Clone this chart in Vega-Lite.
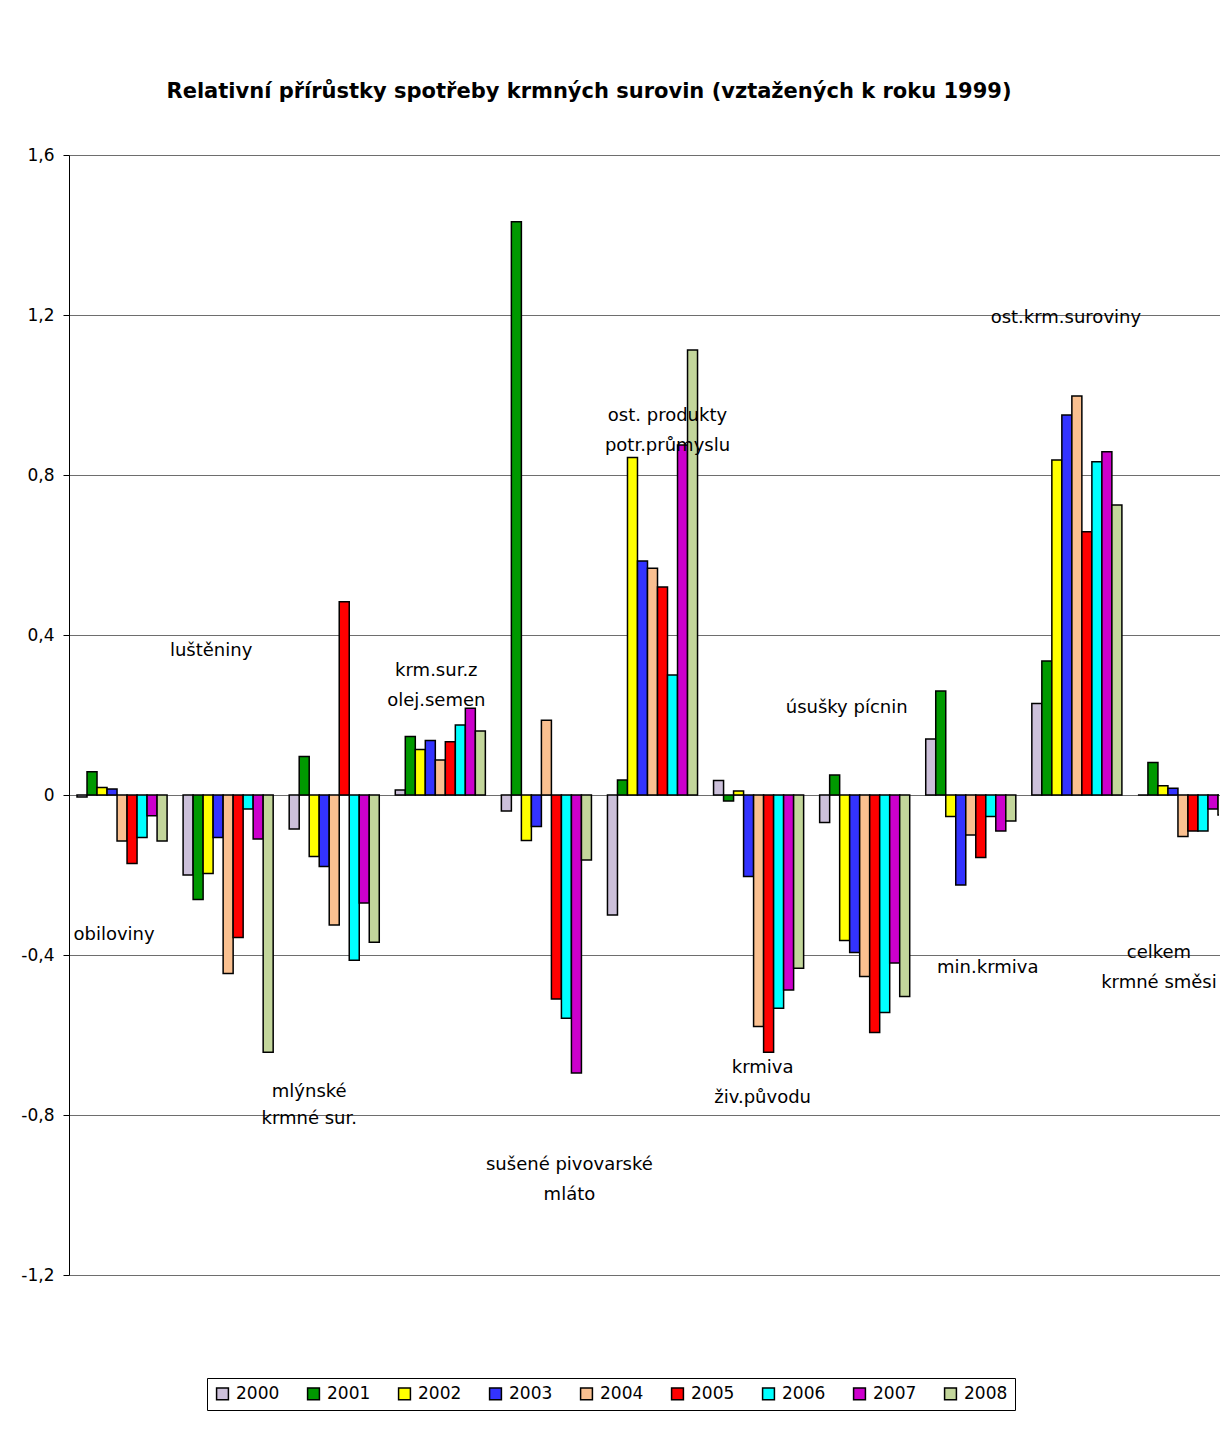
{
  "$schema": "https://vega.github.io/schema/vega-lite/v6.json",
  "width": 1150,
  "height": 1120,
  "autosize": {"type": "none"},
  "padding": {"left": 69, "top": 155, "right": 1, "bottom": 174},
  "background": "white",
  "title": {
    "text": "Relativní přírůstky spotřeby krmných surovin (vztažených k roku 1999)",
    "font": "DejaVu Sans",
    "fontSize": 21,
    "fontWeight": "bold",
    "color": "black",
    "anchor": "middle",
    "dx": -55,
    "offset": 44
  },
  "config": {
    "locale": {"number": {"decimal": ",", "thousands": " ", "grouping": [3], "currency": ["", " Kč"], "minus": "-"}},
    "view": {"stroke": null},
    "font": "DejaVu Sans"
  },
  "datasets": {
    "spotreba": [
      {"kategorie": "obiloviny", "rok": "2000", "hodnota": -0.005},
      {"kategorie": "obiloviny", "rok": "2001", "hodnota": 0.058},
      {"kategorie": "obiloviny", "rok": "2002", "hodnota": 0.019},
      {"kategorie": "obiloviny", "rok": "2003", "hodnota": 0.015},
      {"kategorie": "obiloviny", "rok": "2004", "hodnota": -0.115},
      {"kategorie": "obiloviny", "rok": "2005", "hodnota": -0.171},
      {"kategorie": "obiloviny", "rok": "2006", "hodnota": -0.106},
      {"kategorie": "obiloviny", "rok": "2007", "hodnota": -0.052},
      {"kategorie": "obiloviny", "rok": "2008", "hodnota": -0.115},
      {"kategorie": "luštěniny", "rok": "2000", "hodnota": -0.2},
      {"kategorie": "luštěniny", "rok": "2001", "hodnota": -0.261},
      {"kategorie": "luštěniny", "rok": "2002", "hodnota": -0.196},
      {"kategorie": "luštěniny", "rok": "2003", "hodnota": -0.106},
      {"kategorie": "luštěniny", "rok": "2004", "hodnota": -0.446},
      {"kategorie": "luštěniny", "rok": "2005", "hodnota": -0.356},
      {"kategorie": "luštěniny", "rok": "2006", "hodnota": -0.035},
      {"kategorie": "luštěniny", "rok": "2007", "hodnota": -0.11},
      {"kategorie": "luštěniny", "rok": "2008", "hodnota": -0.643},
      {"kategorie": "mlýnské krmné sur.", "rok": "2000", "hodnota": -0.085},
      {"kategorie": "mlýnské krmné sur.", "rok": "2001", "hodnota": 0.096},
      {"kategorie": "mlýnské krmné sur.", "rok": "2002", "hodnota": -0.154},
      {"kategorie": "mlýnské krmné sur.", "rok": "2003", "hodnota": -0.179},
      {"kategorie": "mlýnské krmné sur.", "rok": "2004", "hodnota": -0.325},
      {"kategorie": "mlýnské krmné sur.", "rok": "2005", "hodnota": 0.483},
      {"kategorie": "mlýnské krmné sur.", "rok": "2006", "hodnota": -0.413},
      {"kategorie": "mlýnské krmné sur.", "rok": "2007", "hodnota": -0.27},
      {"kategorie": "mlýnské krmné sur.", "rok": "2008", "hodnota": -0.368},
      {"kategorie": "krm.sur.z olej.semen", "rok": "2000", "hodnota": 0.0125},
      {"kategorie": "krm.sur.z olej.semen", "rok": "2001", "hodnota": 0.146},
      {"kategorie": "krm.sur.z olej.semen", "rok": "2002", "hodnota": 0.114},
      {"kategorie": "krm.sur.z olej.semen", "rok": "2003", "hodnota": 0.136},
      {"kategorie": "krm.sur.z olej.semen", "rok": "2004", "hodnota": 0.0875},
      {"kategorie": "krm.sur.z olej.semen", "rok": "2005", "hodnota": 0.133},
      {"kategorie": "krm.sur.z olej.semen", "rok": "2006", "hodnota": 0.175},
      {"kategorie": "krm.sur.z olej.semen", "rok": "2007", "hodnota": 0.217},
      {"kategorie": "krm.sur.z olej.semen", "rok": "2008", "hodnota": 0.16},
      {"kategorie": "sušené pivovarské mláto", "rok": "2000", "hodnota": -0.04},
      {"kategorie": "sušené pivovarské mláto", "rok": "2001", "hodnota": 1.433},
      {"kategorie": "sušené pivovarské mláto", "rok": "2002", "hodnota": -0.114},
      {"kategorie": "sušené pivovarské mláto", "rok": "2003", "hodnota": -0.079},
      {"kategorie": "sušené pivovarské mláto", "rok": "2004", "hodnota": 0.187},
      {"kategorie": "sušené pivovarské mláto", "rok": "2005", "hodnota": -0.51},
      {"kategorie": "sušené pivovarské mláto", "rok": "2006", "hodnota": -0.558},
      {"kategorie": "sušené pivovarské mláto", "rok": "2007", "hodnota": -0.695},
      {"kategorie": "sušené pivovarské mláto", "rok": "2008", "hodnota": -0.1625},
      {"kategorie": "ost. produkty potr.průmyslu", "rok": "2000", "hodnota": -0.3},
      {"kategorie": "ost. produkty potr.průmyslu", "rok": "2001", "hodnota": 0.0375},
      {"kategorie": "ost. produkty potr.průmyslu", "rok": "2002", "hodnota": 0.844},
      {"kategorie": "ost. produkty potr.průmyslu", "rok": "2003", "hodnota": 0.585},
      {"kategorie": "ost. produkty potr.průmyslu", "rok": "2004", "hodnota": 0.567},
      {"kategorie": "ost. produkty potr.průmyslu", "rok": "2005", "hodnota": 0.52},
      {"kategorie": "ost. produkty potr.průmyslu", "rok": "2006", "hodnota": 0.3},
      {"kategorie": "ost. produkty potr.průmyslu", "rok": "2007", "hodnota": 0.875},
      {"kategorie": "ost. produkty potr.průmyslu", "rok": "2008", "hodnota": 1.1125},
      {"kategorie": "krmiva živ.původu", "rok": "2000", "hodnota": 0.036},
      {"kategorie": "krmiva živ.původu", "rok": "2001", "hodnota": -0.015},
      {"kategorie": "krmiva živ.původu", "rok": "2002", "hodnota": 0.01},
      {"kategorie": "krmiva živ.původu", "rok": "2003", "hodnota": -0.204},
      {"kategorie": "krmiva živ.původu", "rok": "2004", "hodnota": -0.579},
      {"kategorie": "krmiva živ.původu", "rok": "2005", "hodnota": -0.643},
      {"kategorie": "krmiva živ.původu", "rok": "2006", "hodnota": -0.533},
      {"kategorie": "krmiva živ.původu", "rok": "2007", "hodnota": -0.4875},
      {"kategorie": "krmiva živ.původu", "rok": "2008", "hodnota": -0.433},
      {"kategorie": "úsušky pícnin", "rok": "2000", "hodnota": -0.069},
      {"kategorie": "úsušky pícnin", "rok": "2001", "hodnota": 0.05},
      {"kategorie": "úsušky pícnin", "rok": "2002", "hodnota": -0.364},
      {"kategorie": "úsušky pícnin", "rok": "2003", "hodnota": -0.394},
      {"kategorie": "úsušky pícnin", "rok": "2004", "hodnota": -0.454},
      {"kategorie": "úsušky pícnin", "rok": "2005", "hodnota": -0.594},
      {"kategorie": "úsušky pícnin", "rok": "2006", "hodnota": -0.544},
      {"kategorie": "úsušky pícnin", "rok": "2007", "hodnota": -0.42},
      {"kategorie": "úsušky pícnin", "rok": "2008", "hodnota": -0.504},
      {"kategorie": "min.krmiva", "rok": "2000", "hodnota": 0.14},
      {"kategorie": "min.krmiva", "rok": "2001", "hodnota": 0.26},
      {"kategorie": "min.krmiva", "rok": "2002", "hodnota": -0.054},
      {"kategorie": "min.krmiva", "rok": "2003", "hodnota": -0.225},
      {"kategorie": "min.krmiva", "rok": "2004", "hodnota": -0.1},
      {"kategorie": "min.krmiva", "rok": "2005", "hodnota": -0.156},
      {"kategorie": "min.krmiva", "rok": "2006", "hodnota": -0.054},
      {"kategorie": "min.krmiva", "rok": "2007", "hodnota": -0.09},
      {"kategorie": "min.krmiva", "rok": "2008", "hodnota": -0.065},
      {"kategorie": "ost.krm.suroviny", "rok": "2000", "hodnota": 0.229},
      {"kategorie": "ost.krm.suroviny", "rok": "2001", "hodnota": 0.335},
      {"kategorie": "ost.krm.suroviny", "rok": "2002", "hodnota": 0.8375},
      {"kategorie": "ost.krm.suroviny", "rok": "2003", "hodnota": 0.95},
      {"kategorie": "ost.krm.suroviny", "rok": "2004", "hodnota": 0.9975},
      {"kategorie": "ost.krm.suroviny", "rok": "2005", "hodnota": 0.658},
      {"kategorie": "ost.krm.suroviny", "rok": "2006", "hodnota": 0.833},
      {"kategorie": "ost.krm.suroviny", "rok": "2007", "hodnota": 0.858},
      {"kategorie": "ost.krm.suroviny", "rok": "2008", "hodnota": 0.725},
      {"kategorie": "celkem krmné směsi", "rok": "2000", "hodnota": 0.0},
      {"kategorie": "celkem krmné směsi", "rok": "2001", "hodnota": 0.081},
      {"kategorie": "celkem krmné směsi", "rok": "2002", "hodnota": 0.023},
      {"kategorie": "celkem krmné směsi", "rok": "2003", "hodnota": 0.017},
      {"kategorie": "celkem krmné směsi", "rok": "2004", "hodnota": -0.104},
      {"kategorie": "celkem krmné směsi", "rok": "2005", "hodnota": -0.09},
      {"kategorie": "celkem krmné směsi", "rok": "2006", "hodnota": -0.09},
      {"kategorie": "celkem krmné směsi", "rok": "2007", "hodnota": -0.035},
      {"kategorie": "celkem krmné směsi", "rok": "2008", "hodnota": -0.05}
    ]
  },
  "layer": [
    {
      "data": {"name": "spotreba"},
      "mark": {"type": "bar", "stroke": "black", "strokeWidth": 1.5, "clip": true},
      "encoding": {
        "x": {
          "field": "kategorie", "type": "nominal", "sort": null,
          "scale": {
            "domain": ["obiloviny", "luštěniny", "mlýnské krmné sur.", "krm.sur.z olej.semen", "sušené pivovarské mláto", "ost. produkty potr.průmyslu", "krmiva živ.původu", "úsušky pícnin", "min.krmiva", "ost.krm.suroviny", "celkem krmné směsi"],
            "range": [0, 1167], "paddingInner": 0.151, "paddingOuter": 0.0755
          },
          "axis": null
        },
        "xOffset": {"field": "rok", "type": "nominal", "scale": {"paddingInner": 0, "paddingOuter": 0}},
        "y": {
          "field": "hodnota", "type": "quantitative",
          "scale": {"domain": [-1.2, 1.6], "nice": false, "zero": false},
          "axis": {
            "title": null,
            "values": [-1.2, -0.8, -0.4, 0, 0.4, 0.8, 1.2, 1.6],
            "format": ".1~f",
            "labelFont": "DejaVu Sans",
            "labelFontSize": 17,
            "labelColor": "black",
            "labelPadding": 9,
            "tickSize": 6,
            "tickColor": "black",
            "domainColor": "black",
            "domainWidth": 1,
            "grid": true,
            "gridColor": "#6e6e6e",
            "gridWidth": 1
          }
        },
        "color": {
          "field": "rok", "type": "nominal",
          "scale": {
            "domain": ["2000", "2001", "2002", "2003", "2004", "2005", "2006", "2007", "2008"],
            "range": ["#CCC0DA", "#009900", "#FFFF00", "#3333FF", "#FAC090", "#FF0000", "#00FFFF", "#CC00CC", "#C3D69B"]
          },
          "legend": {
            "title": null,
            "orient": "none",
            "direction": "horizontal",
            "legendX": 138,
            "legendY": 1223,
            "strokeColor": "black",
            "fillColor": "white",
            "padding": 7,
            "symbolType": "square",
            "symbolSize": 140,
            "symbolStrokeColor": "black",
            "symbolStrokeWidth": 1.5,
            "labelFont": "DejaVu Sans",
            "labelFontSize": 17,
            "labelColor": "black",
            "labelOffset": 5,
            "columnPadding": 24
          }
        }
      }
    },
    {
      "mark": {"type": "rule", "color": "black", "strokeWidth": 1},
      "encoding": {"y": {"datum": 0}}
    },
    {
      "data": {"values": [{"kategorie": "obiloviny", "popisek": "obiloviny", "poloha": -0.35}]},
      "mark": {"type": "text", "font": "DejaVu Sans", "fontSize": 18, "color": "black", "align": "center", "baseline": "middle", "lineBreak": "\n", "lineHeight": 29, "dx": -8},
      "encoding": {"x": {"field": "kategorie", "type": "nominal", "sort": null}, "y": {"field": "poloha", "type": "quantitative"}, "text": {"field": "popisek"}}
    },
    {
      "data": {"values": [{"kategorie": "luštěniny", "popisek": "luštěniny", "poloha": 0.36}]},
      "mark": {"type": "text", "font": "DejaVu Sans", "fontSize": 18, "color": "black", "align": "center", "baseline": "middle", "lineBreak": "\n", "lineHeight": 29, "dx": -17},
      "encoding": {"x": {"field": "kategorie", "type": "nominal", "sort": null}, "y": {"field": "poloha", "type": "quantitative"}, "text": {"field": "popisek"}}
    },
    {
      "data": {"values": [{"kategorie": "mlýnské krmné sur.", "popisek": "mlýnské\nkrmné sur.", "poloha": -0.7425}]},
      "mark": {"type": "text", "font": "DejaVu Sans", "fontSize": 18, "color": "black", "align": "center", "baseline": "middle", "lineBreak": "\n", "lineHeight": 27, "dx": -25},
      "encoding": {"x": {"field": "kategorie", "type": "nominal", "sort": null}, "y": {"field": "poloha", "type": "quantitative"}, "text": {"field": "popisek"}}
    },
    {
      "data": {"values": [{"kategorie": "krm.sur.z olej.semen", "popisek": "krm.sur.z\nolej.semen", "poloha": 0.311}]},
      "mark": {"type": "text", "font": "DejaVu Sans", "fontSize": 18, "color": "black", "align": "center", "baseline": "middle", "lineBreak": "\n", "lineHeight": 30, "dx": -4},
      "encoding": {"x": {"field": "kategorie", "type": "nominal", "sort": null}, "y": {"field": "poloha", "type": "quantitative"}, "text": {"field": "popisek"}}
    },
    {
      "data": {"values": [{"kategorie": "sušené pivovarské mláto", "popisek": "sušené pivovarské\nmláto", "poloha": -0.925}]},
      "mark": {"type": "text", "font": "DejaVu Sans", "fontSize": 18, "color": "black", "align": "center", "baseline": "middle", "lineBreak": "\n", "lineHeight": 30, "dx": 23},
      "encoding": {"x": {"field": "kategorie", "type": "nominal", "sort": null}, "y": {"field": "poloha", "type": "quantitative"}, "text": {"field": "popisek"}}
    },
    {
      "data": {"values": [{"kategorie": "ost. produkty potr.průmyslu", "popisek": "ost. produkty\npotr.průmyslu", "poloha": 0.9475}]},
      "mark": {"type": "text", "font": "DejaVu Sans", "fontSize": 18, "color": "black", "align": "center", "baseline": "middle", "lineBreak": "\n", "lineHeight": 30, "dx": 15},
      "encoding": {"x": {"field": "kategorie", "type": "nominal", "sort": null}, "y": {"field": "poloha", "type": "quantitative"}, "text": {"field": "popisek"}}
    },
    {
      "data": {"values": [{"kategorie": "krmiva živ.původu", "popisek": "krmiva\nživ.původu", "poloha": -0.6825}]},
      "mark": {"type": "text", "font": "DejaVu Sans", "fontSize": 18, "color": "black", "align": "center", "baseline": "middle", "lineBreak": "\n", "lineHeight": 30, "dx": 4},
      "encoding": {"x": {"field": "kategorie", "type": "nominal", "sort": null}, "y": {"field": "poloha", "type": "quantitative"}, "text": {"field": "popisek"}}
    },
    {
      "data": {"values": [{"kategorie": "úsušky pícnin", "popisek": "úsušky pícnin", "poloha": 0.2175}]},
      "mark": {"type": "text", "font": "DejaVu Sans", "fontSize": 18, "color": "black", "align": "center", "baseline": "middle", "lineBreak": "\n", "lineHeight": 30, "dx": -18},
      "encoding": {"x": {"field": "kategorie", "type": "nominal", "sort": null}, "y": {"field": "poloha", "type": "quantitative"}, "text": {"field": "popisek"}}
    },
    {
      "data": {"values": [{"kategorie": "min.krmiva", "popisek": "min.krmiva", "poloha": -0.4325}]},
      "mark": {"type": "text", "font": "DejaVu Sans", "fontSize": 18, "color": "black", "align": "center", "baseline": "middle", "lineBreak": "\n", "lineHeight": 30, "dx": 17},
      "encoding": {"x": {"field": "kategorie", "type": "nominal", "sort": null}, "y": {"field": "poloha", "type": "quantitative"}, "text": {"field": "popisek"}}
    },
    {
      "data": {"values": [{"kategorie": "ost.krm.suroviny", "popisek": "ost.krm.suroviny", "poloha": 1.1925}]},
      "mark": {"type": "text", "font": "DejaVu Sans", "fontSize": 18, "color": "black", "align": "center", "baseline": "middle", "lineBreak": "\n", "lineHeight": 30, "dx": -11},
      "encoding": {"x": {"field": "kategorie", "type": "nominal", "sort": null}, "y": {"field": "poloha", "type": "quantitative"}, "text": {"field": "popisek"}}
    },
    {
      "data": {"values": [{"kategorie": "celkem krmné směsi", "popisek": "celkem\nkrmné směsi", "poloha": -0.395}]},
      "mark": {"type": "text", "font": "DejaVu Sans", "fontSize": 18, "color": "black", "align": "center", "baseline": "middle", "lineBreak": "\n", "lineHeight": 30, "dx": -24},
      "encoding": {"x": {"field": "kategorie", "type": "nominal", "sort": null}, "y": {"field": "poloha", "type": "quantitative"}, "text": {"field": "popisek"}}
    }
  ]
}
